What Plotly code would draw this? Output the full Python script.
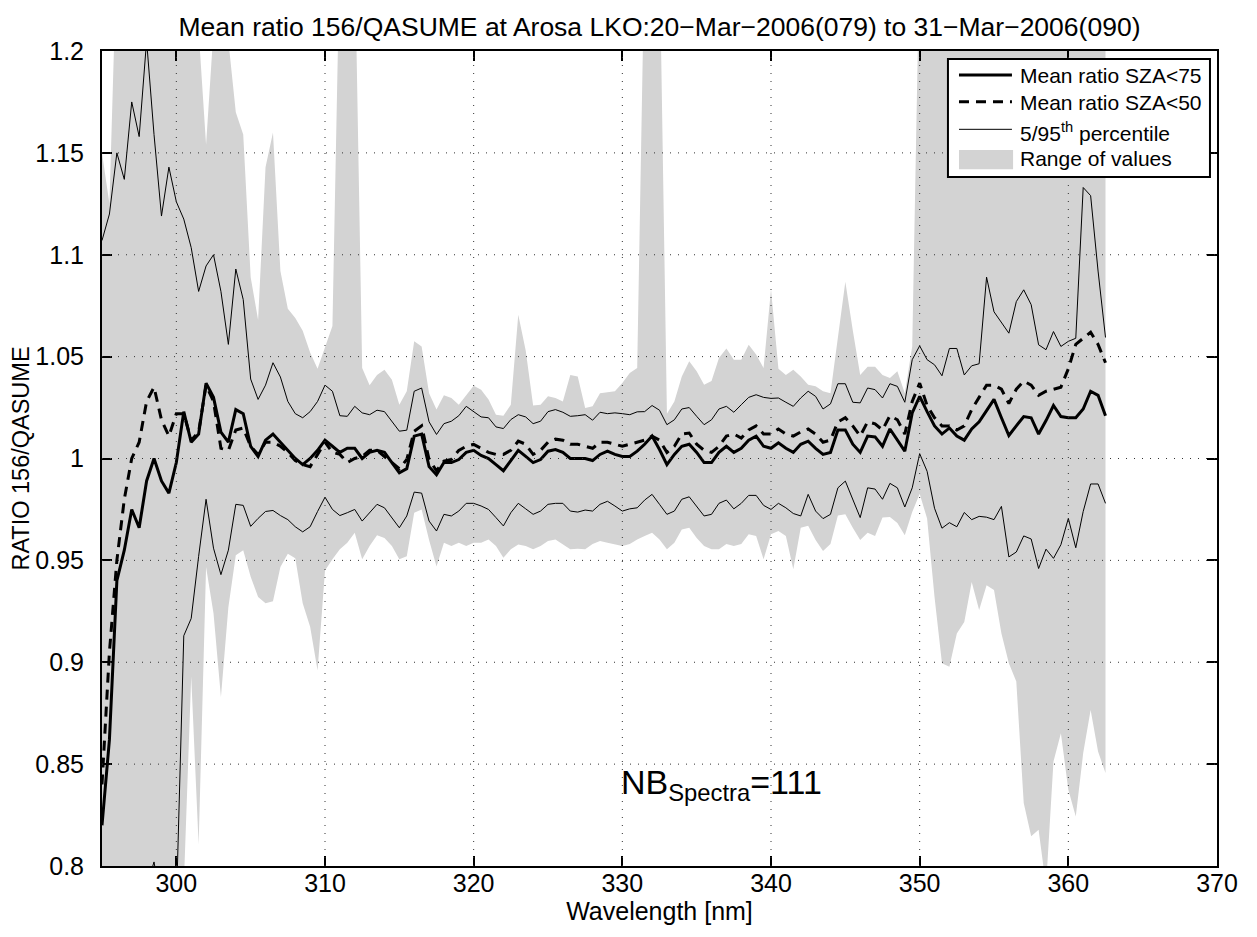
import numpy as np
import plotly.graph_objects as go

# wavelength grid (0.5 nm sampling, 295 - 362.5 nm)
wavelength = np.arange(295.0, 363.0, 0.5)

mean_sza75 = [
    0.820, 0.862, 0.940, 0.955, 0.975, 0.966, 0.989, 1.000, 0.989, 0.983,
    0.998, 1.023, 1.008, 1.012, 1.037, 1.030, 1.013, 1.008, 1.024, 1.022,
    1.006, 1.001, 1.009, 1.012, 1.008, 1.004, 1.000, 0.997, 1.000, 1.004,
    1.009, 1.006, 1.003, 1.005, 1.005, 1.000, 1.003, 1.004, 1.003, 0.998,
    0.993, 0.995, 1.011, 1.012, 0.996, 0.992, 0.998, 0.998, 0.9995, 1.003,
    1.004, 1.0015, 1.000, 0.997, 0.994, 0.999, 1.004, 1.001, 0.998, 0.9995,
    1.0036, 1.0044, 1.003, 1.000, 1.000, 1.000, 0.999, 1.002, 1.0036, 1.002,
    1.001, 1.001, 1.0036, 1.007, 1.011, 1.0044, 0.997, 1.002, 1.006, 1.007,
    1.003, 0.998, 0.998, 1.003, 1.006, 1.003, 1.005, 1.009, 1.011, 1.006,
    1.005, 1.0077, 1.005, 1.003, 1.007, 1.0085, 1.005, 1.002, 1.003, 1.014,
    1.014, 1.007, 1.003, 1.011, 1.0106, 1.006, 1.0145, 1.0093, 1.0036, 1.0224,
    1.0305, 1.023, 1.016, 1.012, 1.015, 1.011, 1.009, 1.0145, 1.018, 1.0235,
    1.029, 1.020, 1.0113, 1.016, 1.0206, 1.020, 1.012, 1.0186, 1.026, 1.0206,
    1.020, 1.020, 1.0243, 1.033, 1.031, 1.021,
]

mean_sza50 = [
    0.840, 0.905, 0.950, 0.980, 1.000, 1.008, 1.028, 1.035, 1.019, 1.011,
    1.022, 1.022, 1.009, 1.013, 1.036, 1.028, 1.005, 1.004, 1.014, 1.015,
    1.006, 1.002, 1.008, 1.008, 1.006, 1.003, 0.999, 0.997, 0.996, 1.002,
    1.008, 1.003, 1.002, 0.998, 1.000, 1.001, 1.004, 1.004, 1.001, 0.998,
    0.995, 0.9995, 1.0134, 1.016, 0.9995, 0.994, 0.9987, 0.9995, 1.004, 1.006,
    1.0069, 1.005, 1.003, 1.002, 1.002, 1.004, 1.0085, 1.007, 1.002, 1.004,
    1.008, 1.0095, 1.009, 1.007, 1.007, 1.006, 1.005, 1.008, 1.008, 1.007,
    1.006, 1.007, 1.008, 1.009, 1.011, 1.009, 1.003, 1.006, 1.012, 1.0125,
    1.007, 1.004, 1.003, 1.006, 1.011, 1.012, 1.010, 1.014, 1.016, 1.012,
    1.012, 1.0145, 1.012, 1.011, 1.013, 1.0145, 1.012, 1.008, 1.009, 1.018,
    1.020, 1.016, 1.011, 1.018, 1.017, 1.014, 1.021, 1.019, 1.012, 1.028,
    1.037, 1.026, 1.020, 1.016, 1.016, 1.014, 1.016, 1.024, 1.030, 1.036,
    1.036, 1.034, 1.027, 1.034, 1.038, 1.036, 1.031, 1.033, 1.034, 1.035,
    1.044, 1.056, 1.059, 1.062, 1.056, 1.047,
]

pct95 = [
    1.107, 1.120, 1.150, 1.137, 1.175, 1.158, 1.205, 1.159, 1.119, 1.143,
    1.126, 1.1175, 1.1035, 1.082, 1.0945, 1.100, 1.082, 1.056, 1.093, 1.078,
    1.039, 1.029, 1.036, 1.047, 1.040, 1.028, 1.022, 1.020, 1.023, 1.028,
    1.036, 1.033, 1.021, 1.0207, 1.0256, 1.0224, 1.0215, 1.0237, 1.023, 1.0183,
    1.0134, 1.0139, 1.033, 1.0346, 1.018, 1.0118, 1.0171, 1.0183, 1.021, 1.0256,
    1.023, 1.0204, 1.020, 1.0155, 1.0147, 1.0191, 1.0215, 1.0204, 1.0171, 1.0183,
    1.023, 1.024, 1.0227, 1.0207, 1.021, 1.0215, 1.0188, 1.0227, 1.022, 1.0224,
    1.022, 1.0215, 1.0229, 1.023, 1.026, 1.0237, 1.0166, 1.019, 1.0243, 1.025,
    1.0207, 1.0166, 1.019, 1.0243, 1.0256, 1.0227, 1.0264, 1.030, 1.0313, 1.030,
    1.0295, 1.0297, 1.0276, 1.0256, 1.0297, 1.033, 1.0305, 1.0243, 1.0268, 1.0367,
    1.0367, 1.0276, 1.0273, 1.0346, 1.0338, 1.0297, 1.0367, 1.0354, 1.0276, 1.0485,
    1.0553, 1.0485, 1.046, 1.0406, 1.054, 1.054, 1.041, 1.0455, 1.0465, 1.089,
    1.072, 1.067, 1.0615, 1.077, 1.0828, 1.0755, 1.0558, 1.0534, 1.0623, 1.055,
    1.0575, 1.059, 1.133, 1.129, 1.092, 1.0594,
]

pct5 = [
    0.70, 0.70, 0.72, 0.74, 0.76, 0.77, 0.79, 0.802, 0.78, 0.77,
    0.78, 0.913, 0.9215, 0.952, 0.980, 0.956, 0.943, 0.955, 0.9775, 0.977,
    0.9667, 0.9706, 0.974, 0.9745, 0.972, 0.970, 0.9665, 0.964, 0.9665, 0.974,
    0.981, 0.975, 0.972, 0.9734, 0.975, 0.9693, 0.9734, 0.9775, 0.9758, 0.971,
    0.966, 0.9718, 0.9835, 0.983, 0.9693, 0.9644, 0.9726, 0.9718, 0.9742, 0.978,
    0.978, 0.9767, 0.975, 0.971, 0.9669, 0.9734, 0.978, 0.9753, 0.9726, 0.9742,
    0.9775, 0.978, 0.978, 0.9742, 0.9737, 0.9747, 0.9742, 0.9775, 0.979, 0.9767,
    0.9742, 0.9753, 0.9758, 0.9796, 0.9824, 0.9775, 0.9726, 0.9742, 0.980, 0.9812,
    0.9763, 0.9718, 0.9726, 0.978, 0.9796, 0.9753, 0.978, 0.9819, 0.9819, 0.977,
    0.975, 0.978, 0.9758, 0.973, 0.9718, 0.9824, 0.9742, 0.9705, 0.9726, 0.9856,
    0.9889, 0.980, 0.971, 0.9856, 0.985, 0.980, 0.9878, 0.9856, 0.9762, 0.9856,
    1.0024, 0.9937, 0.9756, 0.9658, 0.9685, 0.9665, 0.9735, 0.970, 0.9716, 0.9712,
    0.970, 0.9765, 0.9517, 0.9541, 0.962, 0.9605, 0.946, 0.9555, 0.951, 0.9577,
    0.9706, 0.9562, 0.974, 0.9875, 0.9875, 0.978,
]

range_max = [
    1.150, 1.125, 1.25, 1.25, 1.25, 1.25, 1.25, 1.25, 1.25, 1.25,
    1.25, 1.25, 1.25, 1.21, 1.154, 1.21, 1.25, 1.205, 1.170, 1.159,
    1.089, 1.068, 1.143, 1.160, 1.092, 1.0735, 1.069, 1.0627, 1.052, 1.044,
    1.0545, 1.065, 1.25, 1.25, 1.25, 1.0444, 1.036, 1.041, 1.0436, 1.0387,
    1.0264, 1.033, 1.0575, 1.055, 1.032, 1.024, 1.031, 1.0297, 1.0264, 1.031,
    1.0357, 1.0338, 1.029, 1.0215, 1.021, 1.0264, 1.0705, 1.053, 1.026, 1.0264,
    1.0305, 1.0297, 1.028, 1.041, 1.0403, 1.0248, 1.0256, 1.032, 1.0325, 1.033,
    1.037, 1.042, 1.0444, 1.25, 1.25, 1.25, 1.022, 1.028, 1.0403, 1.0477,
    1.0428, 1.0362, 1.038, 1.0493, 1.054, 1.0485, 1.0485, 1.0558, 1.051, 1.0444,
    1.083, 1.044, 1.041, 1.0436, 1.0403, 1.0362, 1.0354, 1.033, 1.032, 1.060,
    1.0868, 1.063, 1.041, 1.045, 1.045, 1.041, 1.0395, 1.0428, 1.032, 1.055,
    1.25, 1.25, 1.25, 1.25, 1.25, 1.25, 1.25, 1.25, 1.25, 1.25,
    1.25, 1.25, 1.25, 1.25, 1.25, 1.25, 1.25, 1.25, 1.25, 1.25,
    1.25, 1.25, 1.25, 1.25, 1.25, 1.25,
]

range_min = [
    0.70, 0.70, 0.70, 0.70, 0.70, 0.70, 0.70, 0.70, 0.70, 0.70,
    0.70, 0.79, 0.893, 0.8105, 0.9468, 0.924, 0.883, 0.927, 0.9525, 0.955,
    0.942, 0.932, 0.929, 0.930, 0.9468, 0.9533, 0.951, 0.929, 0.9174, 0.896,
    0.945, 0.9505, 0.9554, 0.9587, 0.9636, 0.9505, 0.957, 0.9623, 0.961, 0.957,
    0.9505, 0.952, 0.9734, 0.975, 0.960, 0.947, 0.9587, 0.957, 0.9587, 0.957,
    0.9587, 0.9587, 0.9603, 0.957, 0.9513, 0.9554, 0.9578, 0.957, 0.9554, 0.957,
    0.9595, 0.9603, 0.958, 0.9554, 0.9557, 0.9554, 0.958, 0.9595, 0.9587, 0.958,
    0.957, 0.958, 0.9603, 0.962, 0.9636, 0.9603, 0.9554, 0.9587, 0.9652, 0.966,
    0.961, 0.957, 0.9554, 0.9554, 0.958, 0.957, 0.958, 0.9628, 0.962, 0.9505,
    0.9628, 0.9644, 0.962, 0.9456, 0.966, 0.967, 0.960, 0.9546, 0.958, 0.972,
    0.9726, 0.966, 0.960, 0.9636, 0.962, 0.971, 0.9713, 0.9684, 0.9623, 0.9737,
    0.9827, 0.9705, 0.932, 0.8995, 0.8978, 0.9141, 0.9198, 0.9394, 0.9256, 0.9378,
    0.9354, 0.9141, 0.8995, 0.8905, 0.8309, 0.8146, 0.8178, 0.79, 0.8513, 0.8652,
    0.8374, 0.8243, 0.8554, 0.8766, 0.8562, 0.8456,
]

x_ticks = [300, 310, 320, 330, 340, 350, 360, 370]
y_ticks = [0.8, 0.85, 0.9, 0.95, 1.0, 1.05, 1.1, 1.15, 1.2]
y_ticktext = ["0.8", "0.85", "0.9", "0.95", "1", "1.05", "1.1", "1.15", "1.2"]

legend_labels = ["Mean ratio SZA<75", "Mean ratio SZA<50",
                 "5/95<sup>th</sup> percentile", "Range of values"]

FONT = "Liberation Sans, Arial, Helvetica, sans-serif"
GRAY = "#d3d3d3"

fig = go.Figure()
fig.add_trace(go.Scatter(x=wavelength, y=range_min, mode="lines",
                         line=dict(width=0, color=GRAY), showlegend=False,
                         hoverinfo="skip"))
fig.add_trace(go.Scatter(x=wavelength, y=range_max, mode="lines",
                         line=dict(width=0, color=GRAY), fill="tonexty",
                         fillcolor=GRAY, name=legend_labels[3], showlegend=False))
fig.add_trace(go.Scatter(x=wavelength, y=pct95, mode="lines",
                         line=dict(width=1, color="black"),
                         name=legend_labels[2], showlegend=False))
fig.add_trace(go.Scatter(x=wavelength, y=pct5, mode="lines",
                         line=dict(width=1, color="black"),
                         showlegend=False))
fig.add_trace(go.Scatter(x=wavelength, y=mean_sza75, mode="lines",
                         line=dict(width=3, color="black"),
                         name=legend_labels[0], showlegend=False))
fig.add_trace(go.Scatter(x=wavelength, y=mean_sza50, mode="lines",
                         line=dict(width=3, color="black", dash="10px,7px"),
                         name=legend_labels[1], showlegend=False))

shapes = []
# dotted grid drawn above the data (as in the original)
for xv in x_ticks[:-1]:
    shapes.append(dict(type="line", xref="x", yref="y", x0=xv, x1=xv,
                       y0=0.8, y1=1.2, layer="above",
                       line=dict(color="#333", width=1, dash="1px,7px")))
for yv in y_ticks[1:-1]:
    shapes.append(dict(type="line", xref="x", yref="y", x0=295, x1=370,
                       y0=yv, y1=yv, layer="above",
                       line=dict(color="#333", width=1, dash="1px,7px")))

# legend box
shapes.append(dict(type="rect", xref="paper", yref="paper",
                   x0=0.7587, x1=0.9937, y0=0.8454, y1=0.9902, layer="above",
                   fillcolor="white", line=dict(color="black", width=2)))
lx0, lx1 = 0.7686, 0.8161
shapes.append(dict(type="line", xref="paper", yref="paper", x0=lx0, x1=lx1,
                   y0=0.9706, y1=0.9706, layer="above",
                   line=dict(color="black", width=3)))
shapes.append(dict(type="line", xref="paper", yref="paper", x0=lx0, x1=lx1,
                   y0=0.9378, y1=0.9378, layer="above",
                   line=dict(color="black", width=3, dash="10px,7px")))
shapes.append(dict(type="line", xref="paper", yref="paper", x0=lx0, x1=lx1,
                   y0=0.9039, y1=0.9039, layer="above",
                   line=dict(color="black", width=1)))
shapes.append(dict(type="rect", xref="paper", yref="paper", x0=lx0, x1=lx1 + 0.001,
                   y0=0.8548, y1=0.8785, layer="above",
                   fillcolor=GRAY, line=dict(width=0)))

annotations = []
for lab, yy in zip(legend_labels, [0.9696, 0.9368, 0.9010, 0.8680]):
    annotations.append(dict(text=lab, xref="paper", yref="paper", x=0.8215, y=yy,
                            xanchor="left", yanchor="middle", showarrow=False,
                            font=dict(family=FONT, size=21, color="black")))

annotations.append(dict(text="NB<sub>Spectra</sub>=111", xref="x", yref="y",
                        x=329.8, y=0.840, xanchor="left", yanchor="middle",
                        showarrow=False,
                        font=dict(family=FONT, size=34, color="black")))

# the page body adds an 8 px offset, so the figure is 8 px smaller and shifted
fig.update_layout(
    width=1249, height=929,
    margin=dict(l=94, r=40, t=43, b=71),
    paper_bgcolor="white", plot_bgcolor="white",
    title=dict(text="Mean ratio 156/QASUME at Arosa LKO:20\u2212Mar\u22122006(079) to 31\u2212Mar\u22122006(090)",
               x=0.5, xref="paper", xanchor="center",
               y=1 - 19 / 929, yref="container", yanchor="middle",
               font=dict(family=FONT, size=26.5, color="black")),
    font=dict(family=FONT, size=25, color="black"),
    shapes=shapes, annotations=annotations, showlegend=False,
)
fig.update_xaxes(range=[295, 370], tickvals=x_ticks, ticktext=[str(v) for v in x_ticks],
                 showgrid=False, zeroline=False,
                 showline=True, linecolor="black", linewidth=2, mirror="ticks",
                 ticks="inside", ticklen=10, tickwidth=2, tickcolor="black",
                 layer="above traces", ticklabelstandoff=-6,
                 tickfont=dict(family=FONT, size=25),
                 title=dict(text="Wavelength [nm]", standoff=0,
                            font=dict(family=FONT, size=25)))
fig.update_yaxes(range=[0.8, 1.2], tickvals=y_ticks, ticktext=y_ticktext,
                 showgrid=False, zeroline=False,
                 showline=True, linecolor="black", linewidth=2, mirror="ticks",
                 ticks="inside", ticklen=10, tickwidth=2, tickcolor="black",
                 layer="above traces", ticklabelstandoff=11,
                 tickfont=dict(family=FONT, size=25),
                 title=dict(text="RATIO 156/QASUME", standoff=0,
                            font=dict(family=FONT, size=23.5)))

fig.write_html("out.html")
